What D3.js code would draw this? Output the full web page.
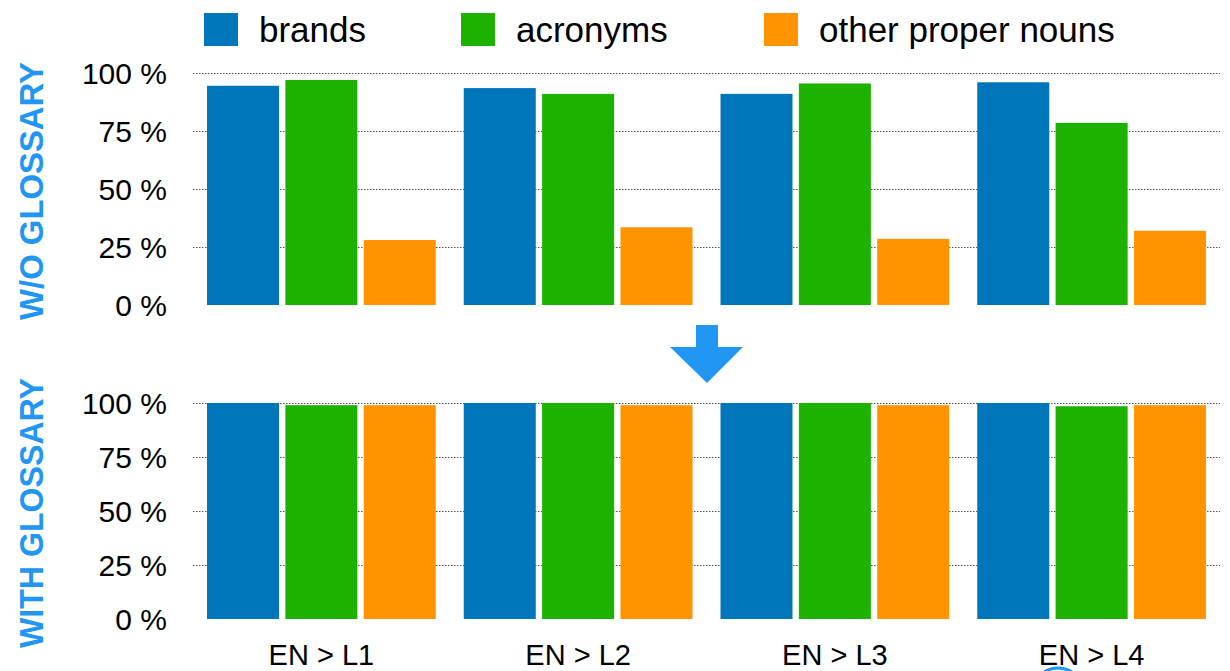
<!DOCTYPE html>
<html>
<head>
<meta charset="utf-8">
<script src="https://cdn.jsdelivr.net/npm/d3@7"></script>
<style>
  body { margin: 0; background: #fff; }
  text { font-family: "Liberation Sans", Arial, Helvetica, sans-serif; }
</style>
</head>
<body>
<div id="chart"></div>
<script>
// data
const pairs = ["EN > L1", "EN > L2", "EN > L3", "EN > L4"];
const types = ["brands", "acronyms", "other proper nouns"];
const colors = ["#0076ba", "#1db100", "#ff9300"];
const yTicks = [0, 25, 50, 75, 100];

// percent correct, per pair, in order of types
const withoutGlossary = [
    [94.5, 97, 28],
    [93.5, 91, 33.5],
    [91, 95.5, 28.5],
    [96, 78.5, 32]
];
const withGlossary = [
    [100, 99, 99],
    [100, 100, 99],
    [100, 100, 99],
    [100, 98.5, 99]
];

const fullWidth = 1230;
const fullHeight = 671;
const accent = "#2196f3";

const svg = d3.select("#chart").append("svg")
    .attr("width", fullWidth)
    .attr("height", fullHeight);

const x0 = d3.scaleBand()
    .domain(pairs)
    .range([207, 1206])
    .paddingInner(0.109)
    .paddingOuter(0);

const x1 = d3.scaleBand()
    .domain(types)
    .range([0, x0.bandwidth()])
    .paddingInner(0.081)
    .paddingOuter(0);

const panels = [
    { data: withoutGlossary, title: "W/O GLOSSARY", top: 73, bottom: 305, titleLen: 258 },
    { data: withGlossary, title: "WITH GLOSSARY", top: 403, bottom: 619, titleLen: 270 }
];

panels.forEach(p => {
    const y = d3.scaleLinear().domain([0, 100]).range([p.bottom, p.top]);
    const g = svg.append("g");

    // dotted grid lines (no line at 0)
    g.selectAll("line.grid")
        .data(yTicks.filter(t => t > 0))
        .enter().append("line")
            .attr("class", "grid")
            .attr("x1", 193)
            .attr("x2", 1220)
            .attr("y1", d => Math.round(y(d)) + 0.5)
            .attr("y2", d => Math.round(y(d)) + 0.5)
            .attr("stroke", "#555")
            .attr("stroke-width", 1)
            .attr("stroke-dasharray", "1.5,1.5");

    // y axis labels
    const yAxis = d3.axisLeft(y)
        .tickValues(yTicks)
        .tickSize(0)
        .tickPadding(0)
        .tickFormat(d => d + " %");
    const ax = g.append("g")
        .attr("transform", "translate(167,0)")
        .call(yAxis);
    ax.select(".domain").remove();
    ax.selectAll("text")
        .style("font-size", "30px")
        .style("font-family", "'Liberation Sans', Arial, sans-serif")
        .attr("fill", "#000")
        .attr("dy", "0.36em");

    // bars
    const groups = g.selectAll("g.pair")
        .data(p.data)
        .enter().append("g")
            .attr("class", "pair")
            .attr("transform", (d, i) => "translate(" + x0(pairs[i]) + ",0)");
    groups.selectAll("rect")
        .data(d => d)
        .enter().append("rect")
            .attr("x", (d, i) => x1(types[i]))
            .attr("width", x1.bandwidth())
            .attr("y", d => y(d))
            .attr("height", d => p.bottom - y(d))
            .attr("fill", (d, i) => colors[i]);

    // rotated panel title
    const mid = (p.top + p.bottom) / 2 + 2;
    svg.append("text")
        .attr("transform", "translate(43," + mid + ") rotate(-90)")
        .attr("text-anchor", "middle")
        .attr("textLength", p.titleLen)
        .attr("lengthAdjust", "spacingAndGlyphs")
        .style("font-size", "34px")
        .style("font-weight", "bold")
        .attr("fill", accent)
        .text(p.title);
});

// x labels under the lower panel
svg.selectAll("text.xlab")
    .data(pairs)
    .enter().append("text")
        .attr("class", "xlab")
        .attr("x", d => x0(d) + x0.bandwidth() / 2)
        .attr("y", 665)
        .attr("text-anchor", "middle")
        .style("font-size", "29px")
        .attr("fill", "#000")
        .text(d => d);

// legend
const legendX = [204, 461, 764];
const legend = svg.selectAll("g.legend")
    .data(types)
    .enter().append("g")
        .attr("class", "legend")
        .attr("transform", (d, i) => "translate(" + legendX[i] + ",13)");
legend.append("rect")
    .attr("width", 34)
    .attr("height", 33)
    .attr("fill", (d, i) => colors[i]);
legend.append("text")
    .attr("x", 55)
    .attr("y", 29)
    .style("font-size", "35px")
    .attr("fill", "#000")
    .text(d => d);

// arrow between the panels
const arrow = d3.path();
arrow.moveTo(696, 325);
arrow.lineTo(718, 325);
arrow.lineTo(718, 347);
arrow.lineTo(743, 347);
arrow.lineTo(707, 383);
arrow.lineTo(670, 347);
arrow.lineTo(696, 347);
arrow.closePath();
svg.append("path")
    .attr("d", arrow.toString())
    .attr("fill", accent);

// edge of a blue mark cut off at the bottom
svg.append("ellipse")
    .attr("cx", 1058)
    .attr("cy", 690)
    .attr("rx", 24)
    .attr("ry", 22)
    .attr("fill", "none")
    .attr("stroke", accent)
    .attr("stroke-width", 3);
</script>
</body>
</html>
